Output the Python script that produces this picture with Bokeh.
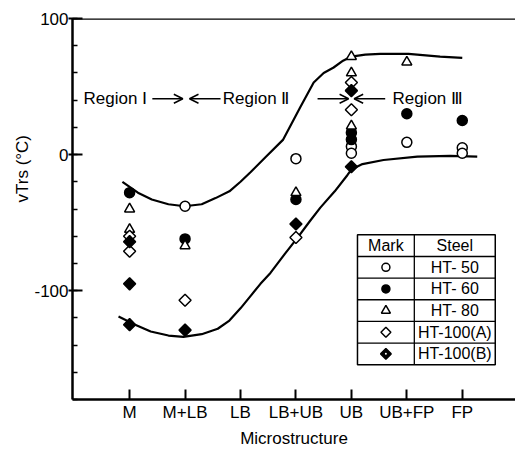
import math
from bokeh.plotting import figure
from bokeh.models import Range1d, FixedTicker, Arrow, OpenHead, Label, Span, Title
from bokeh.embed import file_html
from bokeh.resources import INLINE
from bokeh.core.properties import value

categories = ["M", "M+LB", "LB", "LB+UB", "UB", "UB+FP", "FP"]

# vTrs (°C) measured for each steel, keyed by microstructure
ht50_cat = ["M+LB", "LB+UB", "UB", "UB", "UB+FP", "FP", "FP"]
ht50_val = [-38, -3, 6, 1, 9, 5, 1]
ht60_cat = ["M", "M+LB", "LB+UB", "UB", "UB", "UB+FP", "FP"]
ht60_val = [-28, -62, -33, 16, 11, 30, 25]
ht80_cat = ["M", "M", "M+LB", "LB+UB", "UB", "UB", "UB", "UB+FP"]
ht80_val = [-40, -55, -67, -28, 72, 60, 21, 68]
ht100a_cat = ["M", "M", "M+LB", "LB+UB", "UB", "UB"]
ht100a_val = [-60, -71, -107, -61, 53, 33]
ht100b_cat = ["M", "M", "M", "M+LB", "LB+UB", "UB", "UB"]
ht100b_val = [-64, -95, -125, -129, -51, 47, -9]

# hand-drawn scatter band (position along the microstructure axis, vTrs)
upper_pos = [0.87, 1.15, 1.40, 1.70, 1.99, 2.30, 2.55, 2.80, 3.00, 3.18, 3.45, 3.77,
             4.08, 4.32, 4.50, 4.68, 4.85, 5.00, 5.25, 5.52, 6.03, 6.60, 7.00]
upper_val = [-20, -28, -33, -36.5, -38, -36.5, -32, -27, -20, -13, -2, 11,
             35, 53, 60, 64, 69, 72, 73.5, 74, 74, 72, 71]
lower_pos = [0.80, 1.10, 1.38, 1.70, 1.97, 2.30, 2.59, 2.80, 3.00, 3.18, 3.36, 3.54,
             3.80, 4.03, 4.25, 4.44, 4.70, 4.93, 5.00, 5.20, 5.58, 6.19, 6.78, 7.27]
lower_val = [-119, -125, -130, -133, -134, -132, -128, -122, -113, -104, -95, -87,
             -73, -61, -49, -39, -27, -15, -11, -7, -4, -1.5, -1, -1.5]

steel_names = ["HT- 50", "HT- 60", "HT- 80", "HT-100(A)", "HT-100(B)"]


def pos(cats):
    return [categories.index(c) + 1 for c in cats]


FONT = "Liberation Sans"

p = figure(frame_width=443, frame_height=381, output_backend="svg", toolbar_location=None,
           x_range=Range1d(-0.03, 7.96), y_range=Range1d(-180, 100),
           min_border_left=72, min_border_right=0, min_border_top=18,
           min_border_bottom=51)
p.outline_line_color = None
p.grid.visible = False
p.background_fill_color = "white"

# axes
p.yaxis.ticker = FixedTicker(ticks=[-100, 0, 100], minor_ticks=list(range(-180, 101, 20)))
p.yaxis.major_label_overrides = {-100: "-100", 0: "0", 100: "100"}
p.yaxis.major_tick_in = 10
p.yaxis.major_tick_out = 4
p.yaxis.minor_tick_in = 5
p.yaxis.minor_tick_out = 0
p.yaxis.major_label_standoff = 0
p.xaxis.ticker = FixedTicker(ticks=list(range(1, 8)), minor_ticks=[])
p.xaxis.major_label_overrides = {i + 1: c for i, c in enumerate(categories)}
p.xaxis.major_tick_in = 10
p.xaxis.major_tick_out = 0
p.xaxis.major_label_standoff = 3
p.xaxis.axis_label = "Microstructure"
p.xaxis.axis_label_standoff = 4
for ax in (p.xaxis, p.yaxis):
    ax.axis_line_width = 2.5
    ax.axis_line_color = "black"
    ax.major_tick_line_width = 2
    ax.major_tick_line_color = "black"
    ax.minor_tick_line_width = 1.5
    ax.minor_tick_line_color = "black"
    ax.major_label_text_font = FONT
    ax.major_label_text_font_size = "17px"
    ax.major_label_text_color = "black"
    ax.axis_label_text_font = FONT
    ax.axis_label_text_font_size = "17px"
    ax.axis_label_text_font_style = "normal"
    ax.axis_label_text_color = "black"

p.add_layout(Span(location=100, dimension="width", line_color="black", line_width=2.5))

# y-axis caption, sitting above the axis middle
p.add_layout(Title(text="vTrs (°C)", align="left", offset=197, text_font=FONT,
                   text_font_size="17px", text_font_style="normal", text_color="black",
                   standoff=0), "left")

# band curves
p.line(upper_pos, upper_val, line_color="black", line_width=2.2)
p.line(lower_pos, lower_val, line_color="black", line_width=2.2)

# region annotations
for x, t in [(0.17, "Region Ⅰ"), (2.68, "Region Ⅱ"), (5.74, "Region Ⅲ")]:
    p.add_layout(Label(x=x, y=41, text=t, text_align="left", text_baseline="middle",
                       text_font=FONT, text_font_size="17px", text_color="black"))
for x0, x1 in [(1.41, 1.96), (2.64, 2.08), (4.39, 4.95), (5.61, 5.05)]:
    p.add_layout(Arrow(x_start=x0, y_start=41, x_end=x1, y_end=41, line_width=1.5,
                       end=OpenHead(size=9, line_width=1.5)))

# measured points
mk = dict(line_color="black", line_width=1.5)
p.scatter(pos(ht50_cat), ht50_val, marker="circle", size=10, fill_color="white", **mk)
p.scatter(pos(ht60_cat), ht60_val, marker="circle", size=10, fill_color="black", **mk)
p.scatter(pos(ht80_cat), ht80_val, marker="triangle", size=10, fill_color="white", **mk)
p.scatter(pos(ht100a_cat), ht100a_val, marker="square", angle=math.pi / 4, size=8.5,
          fill_color="white", **mk)
p.scatter(pos(ht100b_cat), ht100b_val, marker="square", angle=math.pi / 4, size=8.5,
          fill_color="black", **mk)

# key table
t_left, t_mid, t_right = 5.11, 6.135, 7.595
t_top, row_h = -59.0, 15.9
edges = [t_top - k * row_h for k in range(7)]
p.quad(left=t_left, right=t_right, top=edges[0], bottom=edges[-1],
       fill_color="white", line_color="black", line_width=1.5)
p.segment(x0=[t_left] * 5, y0=edges[1:6], x1=[t_right] * 5, y1=edges[1:6],
          line_color="black", line_width=1.3)
p.segment(x0=[t_mid], y0=[edges[0]], x1=[t_mid], y1=[edges[-1]],
          line_color="black", line_width=1.3)
mark_x = (t_left + t_mid) / 2
steel_x = (t_mid + t_right) / 2
centers = [(edges[k] + edges[k + 1]) / 2 for k in range(6)]
p.text(x=[mark_x, steel_x], y=centers[:1] * 2, text=["Mark", "Steel"],
       text_font=value(FONT), text_font_size="16px", text_align="center",
       text_baseline="middle", text_color="black")
p.text(x=[steel_x] * 5, y=centers[1:], text=steel_names,
       text_font=value(FONT), text_font_size="16px", text_align="center",
       text_baseline="middle", text_color="black")
p.scatter([mark_x], [centers[1]], marker="circle", size=8, fill_color="white", **mk)
p.scatter([mark_x], [centers[2]], marker="circle", size=8, fill_color="black", **mk)
p.scatter([mark_x], [centers[3]], marker="triangle", size=9, fill_color="white", **mk)
p.scatter([mark_x], [centers[4]], marker="square", angle=math.pi / 4, size=7,
          fill_color="white", **mk)
p.scatter([mark_x], [centers[5]], marker="square", angle=math.pi / 4, size=7.5,
          fill_color="black", **mk)
p.scatter([mark_x], [centers[5]], marker="circle", size=2, fill_color="white",
          line_color=None)

open("out.html", "w").write(file_html(p, INLINE))
